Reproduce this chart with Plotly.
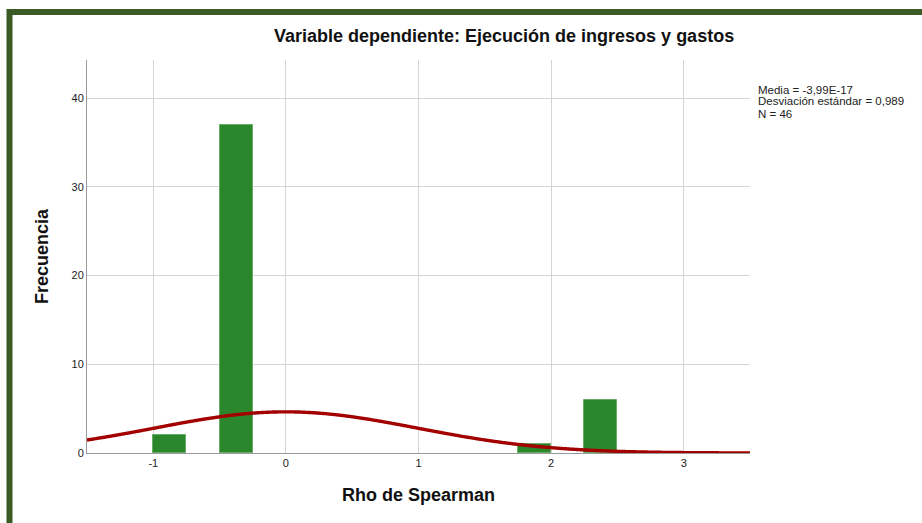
import numpy as np
import plotly.graph_objects as go

# Data
bin_centers = [-0.875, -0.375, 1.875, 2.375]
frequencies = [2, 37, 1, 6]
bin_width = 0.25
mean_val = -3.99e-17
std_val = 0.989
n_val = 46
x_ticks = [-1, 0, 1, 2, 3]
y_ticks = [0, 10, 20, 30, 40]

title_text = "Variable dependiente: Ejecución de ingresos y gastos"
stats_lines = ["Media = -3,99E-17", "Desviación estándar = 0,989", "N = 46"]

# fitted normal curve from the stated statistics
xc = np.linspace(-1.5, 3.5, 400)
yc = n_val * bin_width * np.exp(-0.5 * ((xc - mean_val) / std_val) ** 2) / (std_val * np.sqrt(2 * np.pi))

fig = go.Figure()
fig.add_trace(go.Bar(
    x=bin_centers, y=frequencies, width=bin_width,
    marker=dict(color="#2b872b", line=dict(color="#6aab6a", width=1)),
    hoverinfo="skip",
))
fig.add_trace(go.Scatter(
    x=xc, y=yc, mode="lines",
    line=dict(color="#a30000", width=3.4, shape="spline"),
    hoverinfo="skip",
))

font_family = "Liberation Sans, Arial, sans-serif"

L, R, T, B = 87, 172, 60, 70
PW, PH = 922 - L - R, 523 - T - B


def px(x):
    return (x - L) / PW


def py(y):
    return (523 - B - y) / PH


annotations = [
    dict(text="<b>" + title_text + "</b>", xref="paper", yref="paper",
         x=px(504), y=py(36), xanchor="center", yanchor="middle",
         showarrow=False, font=dict(size=18, color="#111111", family=font_family)),
]
for i, line in enumerate(stats_lines):
    annotations.append(dict(text=line, xref="paper", yref="paper",
                            x=px(756), y=py(89.5 + 12 * i), xanchor="left", yanchor="middle",
                            align="left", showarrow=False,
                            font=dict(size=11.5, color="#222222", family=font_family)))

fig.update_layout(
    width=922, height=523,
    margin=dict(l=L, r=R, t=T, b=B),
    paper_bgcolor="white", plot_bgcolor="white",
    showlegend=False,
    bargap=0,
    font=dict(family=font_family, color="#222222", size=11),
    xaxis=dict(
        range=[-1.5, 3.5], tickvals=x_ticks, ticktext=[str(v) for v in x_ticks],
        showgrid=True, gridcolor="#d4d4d4", gridwidth=1,
        zeroline=False, showline=True, linecolor="#9a9a9a", linewidth=1,
        ticks="", ticklen=0, tickfont=dict(size=11, color="#222222"),
        title=dict(text="<b>Rho de Spearman</b>", font=dict(size=18, color="#111111"), standoff=20),
    ),
    yaxis=dict(
        range=[0, 44.3], tickvals=y_ticks,
        showgrid=True, gridcolor="#d4d4d4", gridwidth=1,
        zeroline=False, showline=True, linecolor="#9a9a9a", linewidth=1,
        ticks="", tickfont=dict(size=11, color="#222222"),
        title=dict(text="<b>Frecuencia</b>", font=dict(size=18, color="#111111"), standoff=18),
    ),
    annotations=annotations,
    shapes=[
        dict(type="rect", xref="paper", yref="paper",
             x0=px(9.5), x1=px(940), y0=py(540), y1=py(12),
             line=dict(color="#3b5a24", width=6), fillcolor="rgba(0,0,0,0)", layer="above"),
    ],
)

fig.write_html("out.html", config={"displayModeBar": False},
               post_script="document.body.style.margin='0';document.body.style.overflow='hidden';")
